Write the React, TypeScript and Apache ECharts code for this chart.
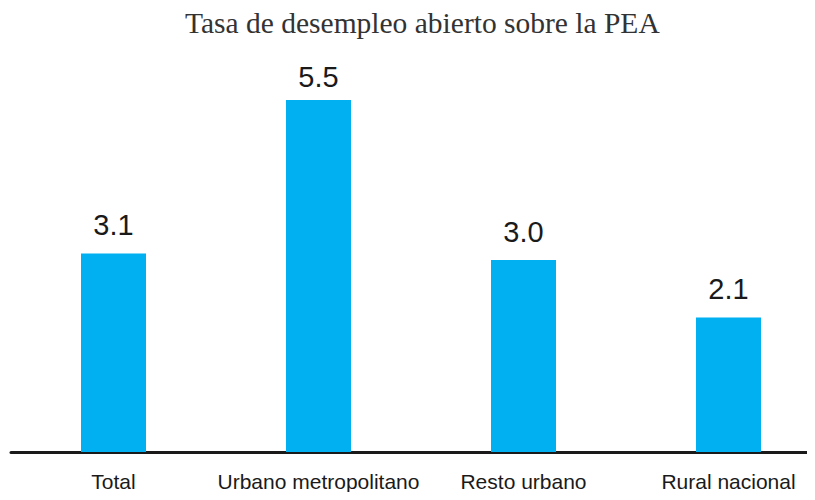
import React, { useEffect, useRef } from "react";
import * as echarts from "echarts";

const titleText = "Tasa de desempleo abierto sobre la PEA";
const categories = ["Total", "Urbano metropolitano", "Resto urbano", "Rural nacional"];
const values = [3.1, 5.5, 3.0, 2.1];

export default function App() {
  const ref = useRef<HTMLDivElement>(null);
  useEffect(() => {
    if (!ref.current) return;
    const chart = echarts.init(ref.current, null, { renderer: "svg" });
    const maxVal = Math.max(...values);
    chart.setOption({
      animation: false,
      backgroundColor: "#ffffff",
      title: {
        text: titleText,
        left: 180,
        top: 3,
        textStyle: {
          fontFamily: "Liberation Serif",
          fontWeight: "normal",
          fontSize: 29.5,
          color: "#333333",
        },
      },
      grid: { left: 11, right: -16, top: 100, bottom: 48, outerBoundsMode: "none" },
      xAxis: {
        type: "category",
        data: categories,
        axisLine: { lineStyle: { color: "#1a1a1a", width: 3 } },
        axisTick: { show: false },
        axisLabel: {
          fontFamily: "Liberation Sans Narrow, Liberation Sans",
          fontSize: 21,
          color: "#1a1a1a",
          margin: 19,
          interval: 0,
        },
      },
      yAxis: {
        type: "value",
        min: 0,
        max: 5.5,
        show: false,
        splitLine: { show: false },
      },
      series: [
        {
          type: "bar",
          data: values.map((v) => ({
            value: v,
            label: { distance: v === maxVal ? 9 : 14 },
          })),
          barWidth: 65,
          itemStyle: { color: "#00B0F0" },
          label: {
            show: true,
            position: "top",
            distance: 14,
            formatter: (p: any) => Number(p.value).toFixed(1),
            fontFamily: "Liberation Sans",
            fontSize: 29,
            color: "#1a1a1a",
          },
        },
      ],
    });
    return () => chart.dispose();
  }, []);
  return <div ref={ref} style={{ width: 815, height: 500, margin: -8 }} />;
}
